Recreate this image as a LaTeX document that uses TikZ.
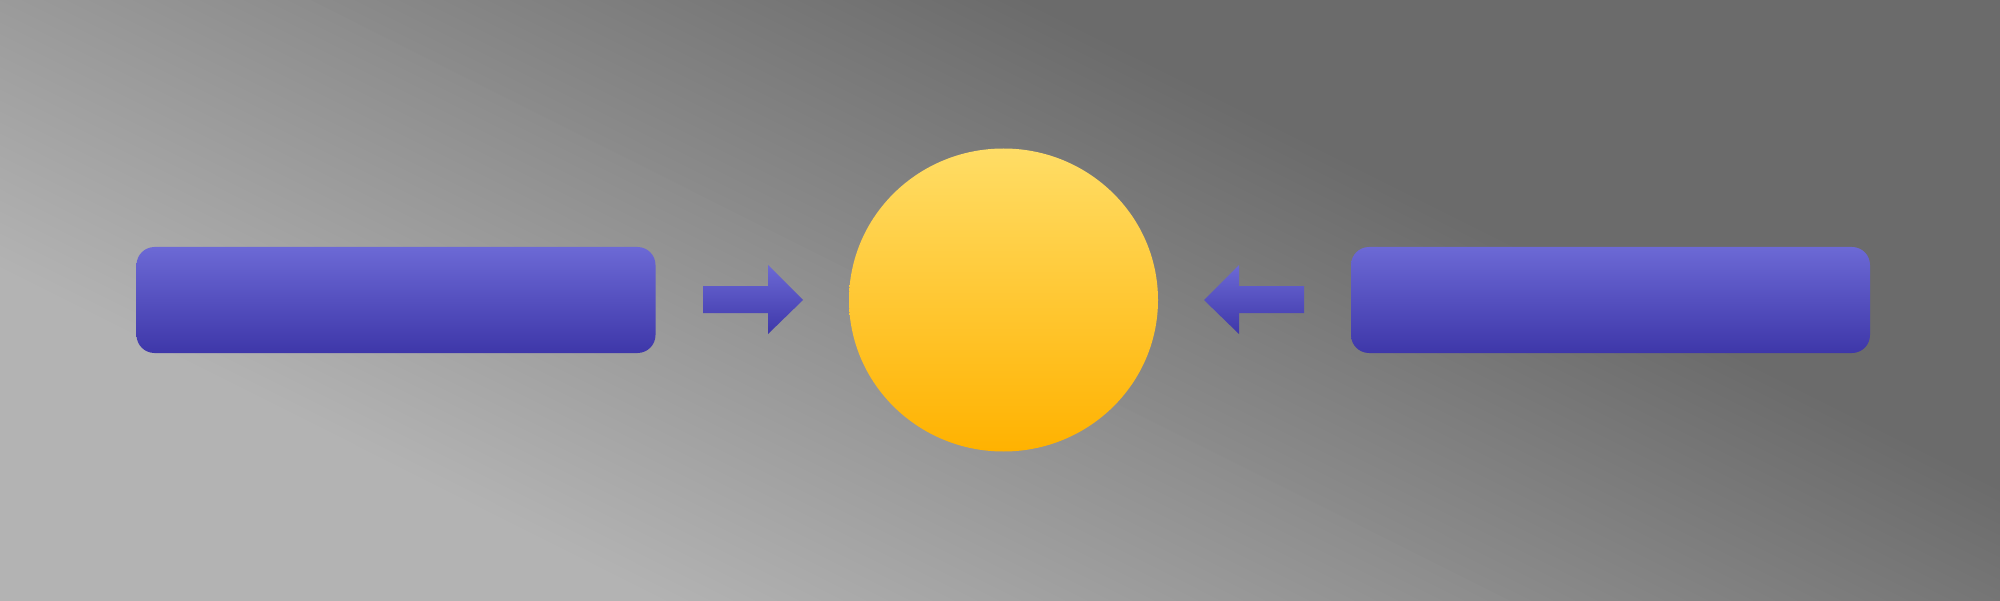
\documentclass[tikz,border=0pt]{standalone}
\usepackage{tikz}
\usetikzlibrary{shapes.geometric,positioning,calc}
\definecolor{bglight}{HTML}{B3B3B3}
\definecolor{bgdark}{HTML}{6B6B6B}
\definecolor{bartop}{HTML}{6C69D5}
\definecolor{barbot}{HTML}{3E37A9}
\definecolor{suntop}{HTML}{FFDD66}
\definecolor{sunbot}{HTML}{FFB200}
\begin{document}
\begin{tikzpicture}[
    bar/.style={rectangle, rounded corners=0.18cm, minimum width=5.19cm, minimum height=1.06cm,
                inner sep=0pt, top color=bartop, bottom color=barbot},
    disc/.style={ellipse, minimum width=3.09cm, minimum height=3.03cm, inner sep=0pt,
                 top color=suntop, bottom color=sunbot},
    blockarrow/.style={top color=bartop, bottom color=barbot}
  ]
                \useasboundingbox (0,0) rectangle (20,6);
                % background, in thin strips along the diagonal
                \begin{scope}
                  \clip (0,0) rectangle (20,6);
                  \begin{scope}[shift={(0,6)}, rotate=63.4]
                    \fill[bglight] (-12,-25) rectangle (-2.46,25);
                    \fill[bgdark] (4.63,-25) rectangle (25,25);
                    \foreach \i [evaluate=\i as \p using \i*100/71,
                                 evaluate=\i as \u using -2.48+\i*0.0993] in {0,...,71}
                      \fill[bgdark!\p!bglight] (\u,-25) rectangle ({\u+0.11},25);
                  \end{scope}
                \end{scope}
                % the bars and the disc
                \node[bar] (lbar) at (3.96,3) {};
                \node[disc] (hub) at (10.035,3) {};
                \node[bar] (rbar) at (16.105,3) {};
                % arrows towards the disc
                \shade[blockarrow] (7.03,2.87) -- (7.68,2.87) -- (7.68,2.66) -- (8.03,3) -- (7.68,3.35) -- (7.68,3.14) -- (7.03,3.14) -- cycle;
                \shade[blockarrow] (13.04,2.87) -- (12.39,2.87) -- (12.39,2.66) -- (12.04,3) -- (12.39,3.35) -- (12.39,3.14) -- (13.04,3.14) -- cycle;
\end{tikzpicture}
\end{document}
